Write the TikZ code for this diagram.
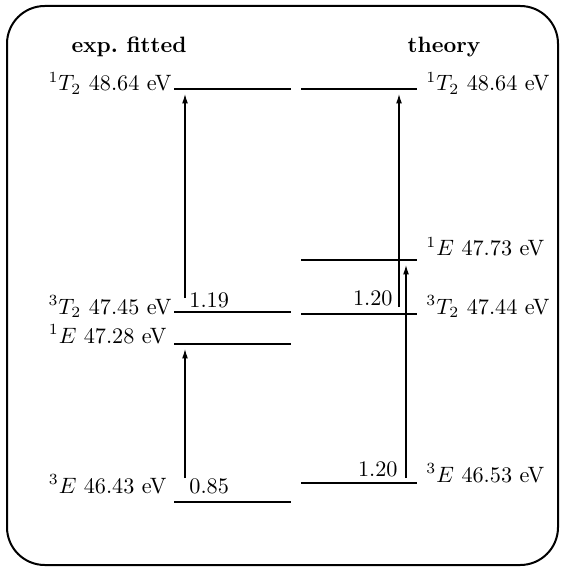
\documentclass[tikz,border=0pt]{standalone}
\usetikzlibrary{arrows.meta}
\tikzset{
  level/.style={line width=1.3pt},
  trans/.style={line width=0.5pt,-{Latex[length=4.2pt,width=2.6pt]}},
  lbl/.style={inner sep=0pt},
}
\begin{document}
\begin{tikzpicture}[x=0.45pt,y=-0.45pt]
\useasboundingbox (0,0) rectangle (561,568);
\draw[line width=0.9pt,rounded corners=17pt] (7,6) rectangle (558,565);

   \node[font=\bfseries] at (129,47) (hexp) {exp.\ fitted};
   \node[font=\bfseries] at (444,47) (hth) {theory};

% exp. fitted
   \coordinate (eTa) at (174,89);  \coordinate (eTb) at (291,89);
   \coordinate (etTa) at (174,312); \coordinate (etTb) at (291,312);
   \coordinate (eEa) at (174,344);  \coordinate (eEb) at (291,344);
   \coordinate (etEa) at (174,502); \coordinate (etEb) at (291,502);
    \draw[level] (eTa) -- (eTb);
    \draw[level] (etTa) -- (etTb);
    \draw[level] (eEa) -- (eEb);
    \draw[level] (etEa) -- (etEb);

   \node[lbl,anchor=base east] at (172,91)  (leT)  {$^1T_2$ 48.64 eV};
   \node[lbl,anchor=base east] at (172,314) (letT) {$^3T_2$ 47.45 eV};
   \node[lbl,anchor=base east] at (167,343) (leE)  {$^1E$ 47.28 eV};
   \node[lbl,anchor=base east] at (167,493) (letE) {$^3E$ 46.43 eV};

   \coordinate (ea1) at (185,298); \coordinate (ea2) at (185,94);
   \coordinate (eb1) at (185,478); \coordinate (eb2) at (185,349);
    \draw[trans] (ea1) -- (ea2);
    \draw[trans] (eb1) -- (eb2);
   \node[lbl,anchor=west] at (189,300) (ga) {1.19};
   \node[lbl,anchor=west] at (189,486) (gb) {0.85};

% theory
   \coordinate (tTa) at (301,89);  \coordinate (tTb) at (417,89);
   \coordinate (tEa) at (301,260); \coordinate (tEb) at (417,260);
   \coordinate (ttTa) at (301,314); \coordinate (ttTb) at (417,314);
   \coordinate (ttEa) at (301,483); \coordinate (ttEb) at (417,483);
    \draw[level] (tTa) -- (tTb);
    \draw[level] (tEa) -- (tEb);
    \draw[level] (ttTa) -- (ttTb);
    \draw[level] (ttEa) -- (ttEb);

   \node[lbl,anchor=base west] at (426,91)  (ltT)  {$^1T_2$ 48.64 eV};
   \node[lbl,anchor=base west] at (426,256) (ltE)  {$^1E$ 47.73 eV};
   \node[lbl,anchor=base west] at (426,314) (lttT) {$^3T_2$ 47.44 eV};
   \node[lbl,anchor=base west] at (426,482) (lttE) {$^3E$ 46.53 eV};

   \coordinate (ta1) at (399,307); \coordinate (ta2) at (399,94);
   \coordinate (tb1) at (406,478); \coordinate (tb2) at (406,265);
    \draw[trans] (ta1) -- (ta2);
    \draw[trans] (tb1) -- (tb2);
   \node[lbl,anchor=east] at (393,298) (gc) {1.20};
   \node[lbl,anchor=east] at (398,469) (gd) {1.20};

\end{tikzpicture}
\end{document}
